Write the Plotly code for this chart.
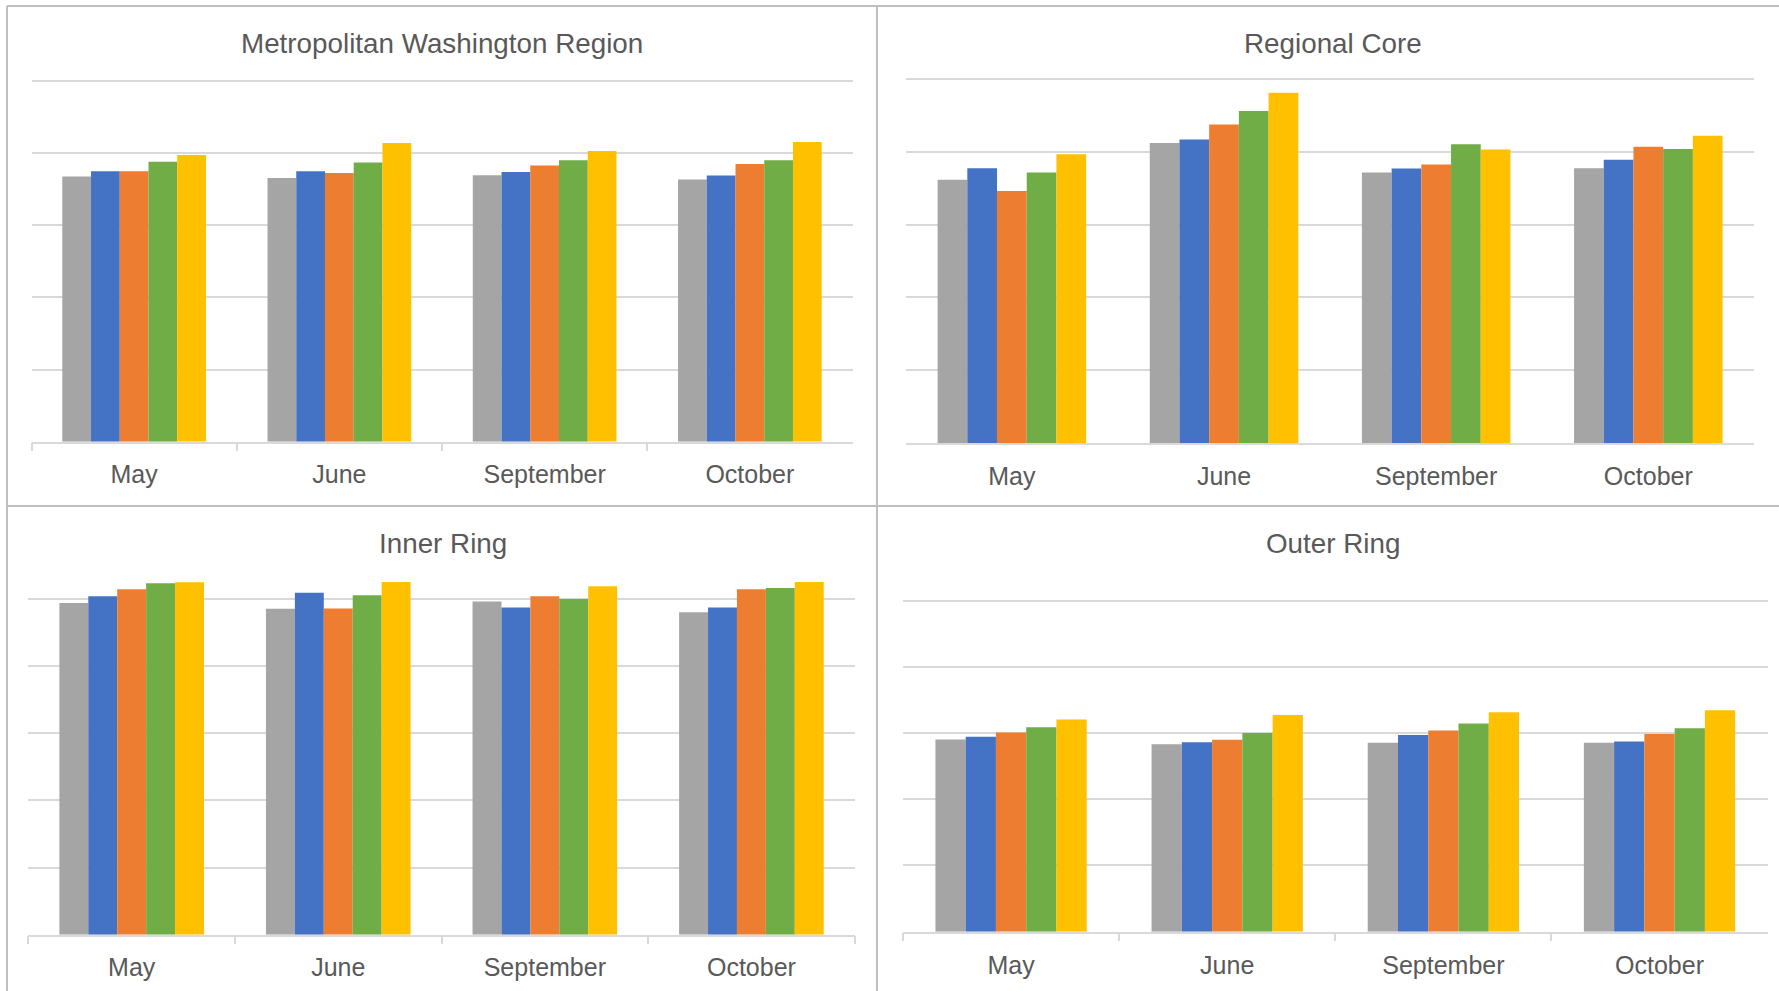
import plotly.graph_objects as go

W, H = 1779, 991

months = ["May", "June", "September", "October"]
series_names = ["Series 1", "Series 2", "Series 3", "Series 4", "Series 5"]
series_colors = ["#a5a5a5", "#4472c4", "#ed7d31", "#70ad47", "#ffc000"]

panel_titles = ["Metropolitan Washington Region", "Regional Core", "Inner Ring", "Outer Ring"]

# values per series (rows) for May, June, September, October
metro_values = [
    [73.5, 73.1, 73.9, 72.7],
    [75.0, 75.0, 74.8, 73.8],
    [75.0, 74.5, 76.6, 77.0],
    [77.6, 77.4, 78.0, 78.0],
    [79.5, 82.8, 80.6, 83.1],
]
core_values = [
    [72.3, 82.4, 74.3, 75.5],
    [75.5, 83.4, 75.4, 77.8],
    [69.2, 87.5, 76.5, 81.4],
    [74.3, 91.2, 82.1, 80.8],
    [79.3, 96.2, 80.6, 84.4],
]
inner_values = [
    [98.7, 97.0, 99.2, 96.0],
    [100.7, 101.8, 97.4, 97.4],
    [102.8, 97.1, 100.7, 102.8],
    [104.6, 101.0, 99.9, 103.2],
    [104.9, 105.0, 103.7, 105.0],
]
outer_values = [
    [58.1, 56.6, 57.1, 57.1],
    [58.9, 57.2, 59.4, 57.5],
    [60.2, 58.0, 60.8, 59.7],
    [61.8, 60.0, 62.9, 61.5],
    [64.1, 65.5, 66.3, 66.9],
]
axis_max = [100.4, 100.4, 105, 100.4]
grid_step = 20

panel_values = [metro_values, core_values, inner_values, outer_values]

# layout geometry in pixels: (x0, x1, y at value 0, y at value 100)
plot_px = [
    (31.5, 852.5, 441.7, 81.0),
    (905.8, 1754.4, 443.0, 79.0),
    (28.4, 854.7, 934.7, 598.7),
    (903.0, 1767.6, 931.7, 600.7),
]
title_px = [(442.0, 43.3), (1333.0, 43.3), (442.7, 543.3), (1333.0, 543.3)]
show_ticks = [True, False, True, True]
label_standoff = [10, 10, 10, 11]

def px_x(x):
    return x / W

def px_y(y):
    return (H - y) / H

font_family = "Liberation Sans, Arial, sans-serif"
text_color = "#595959"
grid_color = "#d9d9d9"
border_color = "#bfbfbf"

fig = go.Figure()

layout_axes = {}
for i, vals in enumerate(panel_values):
    n = "" if i == 0 else str(i + 1)
    xa = "x" + n
    ya = "y" + n
    for s in range(5):
        fig.add_trace(go.Bar(
            x=months, y=vals[s], name=series_names[s],
            marker=dict(color=series_colors[s], line=dict(width=0)),
            xaxis=xa, yaxis=ya, showlegend=False,
        ))
    x0, x1, y0px, y100px = plot_px[i]
    ytop = y0px - (y0px - y100px) * axis_max[i] / 100.0
    layout_axes["xaxis" + n] = dict(
        domain=[px_x(x0), px_x(x1)], anchor=ya,
        type="category", showgrid=False, zeroline=False,
        showline=True, linecolor=grid_color, linewidth=1.5,
        ticks="outside" if show_ticks[i] else "", tickson="boundaries",
        ticklen=8, tickwidth=1.5, tickcolor=grid_color,
        tickfont=dict(family=font_family, size=25, color=text_color),
        ticklabelstandoff=label_standoff[i],
        fixedrange=True,
    )
    layout_axes["yaxis" + n] = dict(
        domain=[px_y(y0px), px_y(ytop)], anchor=xa,
        range=[0, axis_max[i]], dtick=grid_step, tick0=0,
        showgrid=True, gridcolor=grid_color, gridwidth=1.5,
        zeroline=False, showticklabels=False, ticks="",
        fixedrange=True,
    )

annotations = []
for i, t in enumerate(panel_titles):
    cx, cy = title_px[i]
    annotations.append(dict(
        text=t, x=px_x(cx), y=px_y(cy), xref="paper", yref="paper",
        xanchor="center", yanchor="middle", showarrow=False,
        font=dict(family=font_family, size=27.8, color=text_color),
    ))

lw = 2
shapes = [
    dict(type="line", xref="paper", yref="paper", x0=px_x(7), x1=1.01, y0=px_y(6), y1=px_y(6),
         line=dict(color=border_color, width=lw)),
    dict(type="line", xref="paper", yref="paper", x0=px_x(7), x1=1.01, y0=px_y(506), y1=px_y(506),
         line=dict(color=border_color, width=lw)),
    dict(type="line", xref="paper", yref="paper", x0=px_x(7), x1=px_x(7), y0=-0.01, y1=px_y(6),
         line=dict(color=border_color, width=lw)),
    dict(type="line", xref="paper", yref="paper", x0=px_x(877), x1=px_x(877), y0=-0.01, y1=px_y(6),
         line=dict(color=border_color, width=lw)),
]

fig.update_layout(
    width=W, height=H,
    margin=dict(l=0, r=0, t=0, b=0, pad=0),
    paper_bgcolor="white", plot_bgcolor="white",
    barmode="group", bargap=0.3, bargroupgap=0,
    annotations=annotations, shapes=shapes,
    **layout_axes,
)

fig.write_html("out.html", config={"displayModeBar": False},
               post_script="document.body.style.margin='0';document.body.style.overflow='hidden';")
